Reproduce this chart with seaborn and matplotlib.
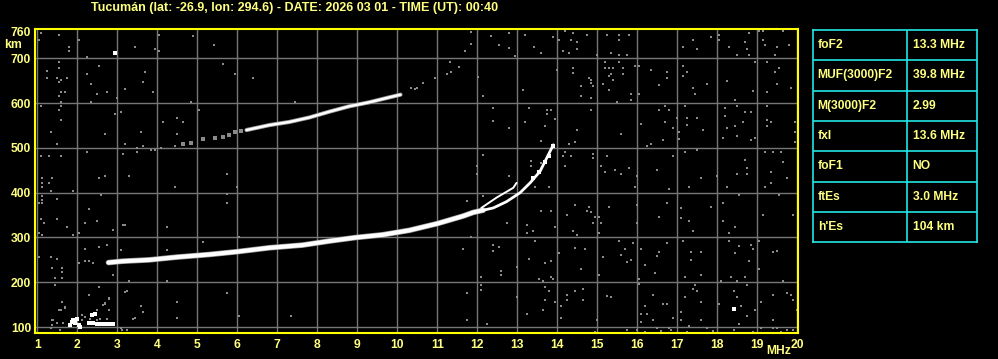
import numpy as np
import pandas as pd
import matplotlib
matplotlib.use("Agg")
import matplotlib.pyplot as plt
import seaborn as sns

# ---------------- data ----------------
title = "Tucumán (lat: -26.9, lon: 294.6) - DATE: 2026 03 01 - TIME (UT): 00:40"
x_ticks = list(range(1, 21))
y_ticks = [100, 200, 300, 400, 500, 600, 700, 760]

# F2 main trace (low part, thick)
f2_freq = [2.78, 3.13, 3.8, 4.47, 5.3, 5.97, 6.8, 7.63, 8.3, 8.97, 9.63, 10.3, 11.0, 11.65, 11.9, 12.15]
f2_height = [244, 247, 250, 256, 262, 268, 277, 283, 292, 300, 306, 316, 331, 348, 356, 361]
# F2 cusp, lower branch
cusp_freq = [12.2, 12.4, 12.73, 13.07, 13.32, 13.57, 13.8, 13.9]
cusp_height = [362, 366, 380, 400, 422, 448, 489, 507]
# F2 upper branch
upper_freq = [12.1, 12.48, 12.9, 12.98]
upper_height = [366, 389, 411, 422]
# second hop trace
hop2_freq = [6.23, 6.8, 7.3, 7.8, 8.3, 8.8, 9.3, 9.8, 10.08]
hop2_height = [540, 551, 558, 568, 581, 593, 602, 613, 619]
hop2_sparse_freq = [4.63, 4.83, 5.13, 5.43, 5.63, 5.78, 5.95, 6.1]
hop2_sparse_height = [508, 512, 519, 522, 525, 530, 535, 538]
# sporadic E (bright echoes)
es_freq = [1.82, 1.86, 1.9, 1.94, 1.98, 2.03, 2.07, 2.28, 2.36, 2.44, 2.4, 2.5, 2.57, 2.63, 2.69, 2.75, 2.8, 2.86, 2.9]
es_height = [104, 112, 116, 108, 119, 104, 101, 108, 127, 130, 108, 106, 106, 106, 106, 106, 106, 106, 106]
# isolated bright dots
bright_freq = [2.93, 18.41, 13.88, 13.78, 13.68, 13.53, 13.4]
bright_height = [713, 140, 504, 482, 469, 446, 433]

# background noise echoes (grey)
noise_freq = [
    1.08, 1.53, 1.03, 2.03, 1.78, 1.78, 3.43, 3.93, 4.03, 4.03, 4.88, 5.41, 2.23, 1.53, 1.53, 1.24, 2.53, 3.68,
    2.23, 1.24, 1.48, 1.58, 1.73, 1.53, 2.33, 3.18, 3.63, 3.88, 2.73, 2.48, 1.58, 1.68, 1.53, 1.58, 2.33, 2.98,
    1.08, 1.53, 1.58, 1.58, 3.08, 2.93, 5.63, 5.93, 6.38, 4.83, 5.03, 7.43, 4.13, 4.48, 4.63, 1.33, 2.68, 3.58,
    4.48, 1.48, 3.18, 3.63, 4.43, 1.08, 1.28, 1.58, 2.23, 3.13, 3.48, 3.48, 3.83, 3.93, 4.08, 1.13, 1.38, 2.53,
    2.68, 3.28, 5.73, 10.35, 10.45,
    11.83, 12.33, 11.83, 12.78, 12.78, 12.53, 11.68, 12.93, 13.18, 13.42, 13.58, 13.88, 14.18, 14.38, 14.48,
    14.33, 14.13, 14.28, 14.48, 14.73, 14.03, 15.23, 15.53, 15.78, 15.53, 15.33, 15.53, 15.73, 14.98, 17.13,
    17.38, 17.48, 17.83, 18.03, 18.03, 18.28, 18.48, 18.68, 18.73, 18.78, 18.78, 19.03, 19.13, 19.18, 19.13,
    19.48, 19.43, 19.63, 19.78, 11.32, 11.23, 11.33, 11.53, 10.93, 10.63, 10.48, 12.02, 12.13, 13.13, 14.0,
    14.38, 14.38, 14.58, 14.58, 14.83, 14.83, 14.88, 14.78, 14.83, 15.18, 15.18, 15.28, 15.38, 15.53, 15.63,
    15.33, 15.28, 15.63, 15.38, 15.13, 15.28, 15.83, 16.03, 15.83, 15.48, 15.93, 16.03, 16.33, 16.73, 16.73,
    16.53, 17.13, 17.23, 17.13, 17.38, 17.43, 17.73, 18.23, 18.88, 19.23, 19.48, 19.83, 19.43, 19.53, 19.23,
    18.93, 18.43,
    12.38, 12.38, 12.78, 13.28, 13.73, 13.83, 13.73, 13.93, 13.68, 13.18, 13.58, 14.48, 14.28, 14.43, 14.83,
    15.58, 16.08, 16.23, 16.33, 16.53, 16.68, 16.78, 16.68, 16.63, 16.88, 16.98, 17.03, 17.03, 17.18, 17.23,
    17.23, 17.48, 17.63, 18.13, 18.18, 18.18, 18.23, 18.48, 18.43, 18.68, 18.83, 18.63, 18.48, 18.83, 18.93,
    19.23, 19.23, 19.33, 19.23, 19.93, 19.93, 19.93,
    12.13, 11.98, 11.98, 12.78, 13.33, 13.33, 13.58, 13.63, 14.18, 14.13, 14.33, 14.18, 14.88, 14.88, 15.23,
    15.08, 15.18, 15.43, 15.78, 15.58, 15.98, 16.48, 16.88, 17.18, 17.48, 17.58, 17.98, 18.68, 18.73, 18.48,
    18.73, 19.18, 19.38, 19.58, 19.63, 19.33, 19.73,
    1.13, 1.28, 1.13, 1.33, 1.88, 1.13, 1.13, 1.48, 1.03, 1.13, 2.58, 2.28, 1.08, 1.18, 1.48, 1.73, 2.18, 2.48,
    3.13, 3.18, 2.88, 1.03, 1.13, 1.88, 2.03, 4.23, 4.43, 5.73, 5.73, 5.98, 6.03, 5.13, 2.73, 2.53, 2.18, 3.08,
    4.23, 1.03, 1.33, 1.48, 2.18, 2.28, 2.38, 2.03, 1.38, 1.63, 1.63, 1.43, 1.63, 2.88, 3.28, 4.23, 1.43, 2.53,
    3.23, 2.28, 2.78, 2.68, 1.63, 3.58, 3.63, 3.43, 4.48, 5.73, 6.03, 4.48, 7.33, 1.38, 1.33, 1.58, 1.68, 3.23,
    3.08,
    1.63, 1.68, 1.55, 1.4, 1.5, 1.65, 2.11, 2.11, 2.19, 2.4, 2.48, 2.65, 2.69, 2.78, 2.57, 2.48, 2.32, 2.73, 2.29,
    2.78, 3.19, 3.4, 3.11, 1.57, 1.36,
    11.73, 12.13, 11.83, 11.63, 12.38, 12.53, 12.38, 12.58, 12.58, 12.08, 12.08, 12.08, 11.73, 11.73, 12.25,
    12.73, 13.23, 13.43, 13.78, 13.58, 13.83, 13.93, 13.23, 13.38, 13.28, 13.68, 13.83, 13.43, 12.98, 13.53,
    13.63, 13.83, 13.88, 13.68, 13.78, 13.68, 13.93, 12.98, 13.23, 13.63, 14.03, 14.43, 14.78, 14.73, 14.93,
    15.03, 14.88, 14.83, 15.08, 15.03, 14.38, 14.48, 14.23, 14.43, 14.68, 14.58, 14.43, 14.23, 14.23, 14.08,
    14.08, 14.63, 14.63, 15.03, 15.23, 15.33, 14.98, 15.28, 15.53, 15.68, 15.58, 15.73, 15.83, 15.88, 15.13,
    15.93, 15.98, 15.98, 16.08, 16.18, 16.43, 16.03, 16.03, 16.38, 16.63, 16.73, 16.18, 16.23, 16.08, 16.08,
    16.38, 16.48, 16.78, 16.88, 16.53, 16.73, 16.78, 16.53, 16.48, 16.73, 17.08, 17.08, 17.28, 17.38, 17.13,
    17.33, 17.33, 17.58, 17.18, 17.43, 17.58, 17.38, 17.48, 17.18, 17.58, 17.08, 17.08, 17.28, 17.58, 17.73,
    17.28, 17.83, 18.13, 18.13, 18.43, 18.28, 18.28, 18.53, 18.43, 18.83, 19.03, 18.88, 18.78, 19.03, 19.38,
    19.48, 18.23, 18.53, 19.18, 19.33, 19.53, 19.13, 19.88, 19.63, 19.73, 19.83, 19.38, 18.08, 18.33, 18.48,
    18.68, 18.73, 18.41, 18.48, 19.08, 18.93, 18.58, 18.03, 18.73, 18.53, 19.38, 19.88, 19.98, 19.08,
    14.93, 15.73, 15.98, 16.83, 17.23, 17.73, 18.41, 19.38, 19.48, 19.73, 19.88, 16.2, 16.6, 17.9, 18.9, 19.6,
]
noise_height = [
    757, 753, 740, 740, 725, 717, 726, 721, 752, 717, 751, 731, 703, 693, 678, 672, 684, 670,
    666, 656, 656, 651, 656, 648, 643, 631, 648, 625, 625, 621, 625, 625, 616, 603, 603, 612,
    594, 585, 594, 563, 581, 576, 688, 666, 656, 603, 585, 603, 557, 567, 558, 536, 531, 536,
    531, 509, 509, 504, 504, 482, 482, 482, 491, 486, 491, 500, 495, 495, 500, 433, 433, 433,
    437, 437, 442, 634, 631,
    758, 751, 732, 757, 723, 731, 717, 706, 753, 726, 713, 748, 762, 757, 737,
    740, 717, 713, 721, 753, 740, 753, 753, 753, 740, 713, 708, 708, 708, 726,
    740, 722, 748, 753, 740, 726, 708, 737, 722, 757, 708, 762, 762, 731, 740,
    726, 708, 762, 731, 693, 666, 670, 681, 657, 646, 633, 658, 616, 630, 675,
    679, 668, 639, 616, 652, 646, 639, 657, 612, 693, 679, 679, 679, 693, 679,
    666, 661, 666, 652, 643, 630, 621, 621, 608, 603, 684, 684, 675, 670, 657,
    641, 684, 670, 661, 634, 621, 643, 650, 628, 625, 643, 634, 670, 679, 693,
    693, 608,
    590, 560, 545, 590, 585, 585, 576, 564, 549, 558, 515, 540, 509, 513, 585,
    531, 554, 504, 509, 585, 594, 585, 558, 518, 545, 567, 536, 519, 594, 567,
    552, 567, 540, 522, 590, 572, 545, 594, 549, 581, 581, 558, 527, 518, 522,
    594, 563, 558, 549, 558, 536, 513,
    484, 460, 442, 437, 471, 460, 467, 460, 491, 482, 482, 460, 487, 478, 482,
    460, 446, 451, 455, 442, 437, 451, 482, 491, 495, 433, 437, 473, 455, 442,
    442, 491, 491, 491, 469, 446, 433,
    422, 422, 413, 404, 404, 393, 384, 387, 378, 378, 395, 363, 342, 333, 342, 324, 333, 337,
    328, 328, 317, 310, 306, 306, 310, 324, 413, 398, 378, 413, 302, 290, 284, 279, 275, 272,
    272, 257, 257, 252, 248, 248, 243, 243, 232, 232, 223, 210, 210, 216, 203, 203, 194, 190,
    181, 172, 163, 152, 156, 147, 134, 120, 156, 176, 125, 120, 125, 116, 98, 138, 143, 93,
    98,
    157, 145, 138, 116, 108, 108, 127, 116, 123, 130, 138, 149, 153, 138, 119, 116, 117, 119, 172,
    164, 179, 119, 93, 93, 104,
    381, 393, 301, 274, 283, 278, 269, 225, 216, 211, 193, 183, 176, 116, 107,
    333, 328, 413, 413, 360, 360, 324, 310, 315, 252, 243, 248, 293, 234, 207,
    202, 211, 207, 189, 180, 161, 156, 166, 129, 138, 266, 372, 369, 360, 346,
    346, 333, 357, 333, 310, 315, 306, 351, 277, 274, 229, 180, 172, 161, 147,
    120, 184, 161, 216, 170, 166, 116, 369, 293, 274, 260, 245, 249, 288, 256,
    413, 373, 333, 275, 238, 221, 208, 195, 172, 152, 152, 147, 129, 129, 111,
    116, 98, 98, 120, 345, 378, 409, 268, 259, 288, 366, 344, 336, 315, 293,
    268, 250, 268, 212, 194, 216, 185, 181, 166, 156, 134, 116, 102, 116, 98,
    413, 369, 378, 336, 324, 310, 293, 280, 266, 284, 293, 275, 248, 230, 267,
    270, 413, 395, 413, 422, 395, 351, 351, 203, 176, 172, 172, 203, 211, 203,
    212, 194, 181, 168, 156, 138, 147, 152, 125, 107, 116, 161, 138, 98,
    89, 93, 93, 93, 90, 98, 93, 98, 98, 93, 93, 90, 91, 92, 90, 89,
]

# parameter table
param_names = ["foF2", "MUF(3000)F2", "M(3000)F2", "fxI", "foF1", "ftEs", "h'Es"]
param_values = ["13.3 MHz", "39.8 MHz", "2.99", "13.6 MHz", "NO", "3.0 MHz", "104 km"]

# ---------------- style ----------------
BG = "#000000"
YEL = "#ffff00"
TXT = "#ffff80"
GRID = "#777777"
NOISE = "#8a8a8a"
CYAN = "#22e6e6"
FONT = ["Liberation Sans", "DejaVu Sans"]
FS = 8.7

sns.set_style("dark")
plt.rcParams["font.family"] = FONT

fig = plt.figure(figsize=(9.98, 3.59), dpi=100, facecolor=BG)
W, H = 998.0, 359.0
ax = fig.add_axes([35.3 / W, 1 - 333.3 / H, (798.3 - 35.3) / W, (333.3 - 29.3) / H])
ax.set_facecolor(BG)

noise_df = pd.DataFrame({"f": noise_freq, "h": noise_height})
sns.scatterplot(data=noise_df, x="f", y="h", ax=ax, marker="s", s=4.2, color=NOISE,
                linewidth=0, legend=False, zorder=3)
sparse_df = pd.DataFrame({"f": hop2_sparse_freq, "h": hop2_sparse_height})
sns.scatterplot(data=sparse_df, x="f", y="h", ax=ax, marker="s", s=5.0, color=NOISE,
                linewidth=0, legend=False, zorder=3)

f2_df = pd.DataFrame({"f": f2_freq, "h": f2_height})
sns.lineplot(data=f2_df, x="f", y="h", ax=ax, sort=False, color="#9a9a9a", lw=4.0, zorder=4)
sns.lineplot(data=f2_df, x="f", y="h", ax=ax, sort=False, color="white", lw=3.0, zorder=5)

cusp_df = pd.DataFrame({"f": cusp_freq, "h": cusp_height})
sns.lineplot(data=cusp_df, x="f", y="h", ax=ax, sort=False, color="white", lw=2.0, zorder=5)
upper_df = pd.DataFrame({"f": upper_freq, "h": upper_height})
sns.lineplot(data=upper_df, x="f", y="h", ax=ax, sort=False, color="white", lw=1.4, zorder=5)

hop2_df = pd.DataFrame({"f": hop2_freq, "h": hop2_height})
sns.lineplot(data=hop2_df, x="f", y="h", ax=ax, sort=False, color="#9a9a9a", lw=3.0, zorder=4)
sns.lineplot(data=hop2_df, x="f", y="h", ax=ax, sort=False, color="white", lw=1.8, zorder=5)

es_df = pd.DataFrame({"f": es_freq, "h": es_height})
sns.scatterplot(data=es_df, x="f", y="h", ax=ax, marker="s", s=7, color="white",
                linewidth=0, legend=False, zorder=5)
br_df = pd.DataFrame({"f": bright_freq, "h": bright_height})
sns.scatterplot(data=br_df, x="f", y="h", ax=ax, marker="s", s=5, color="white",
                linewidth=0, legend=False, zorder=5)

ax.set_xlim(0.95, 20.025)
ax.set_ylim(86, 765)
ax.set_xticks(x_ticks)
ax.set_xticklabels([str(v) for v in x_ticks])
ax.set_yticks(y_ticks)
ax.set_yticklabels([str(v) for v in y_ticks])
ax.set_xlabel("")
ax.set_ylabel("")
ax.tick_params(axis="both", length=0, colors=TXT, labelsize=FS)
ax.tick_params(axis="x", pad=4)
ax.tick_params(axis="y", pad=3)
for lab in ax.get_xticklabels() + ax.get_yticklabels():
    lab.set_fontweight("bold")
    lab.set_color(TXT)
ax.grid(True, color=GRID, lw=1.0)
ax.get_ygridlines()[-1].set_visible(False)
for s in ax.spines.values():
    s.set_visible(True)
    s.set_color(YEL)
    s.set_linewidth(1.5)
    s.set_zorder(10)

fig.text(91 / W, 1 - 7.5 / H, title, color=TXT, fontsize=9, fontweight="bold",
         ha="left", va="center")
fig.text(13 / W, 1 - 45 / H, "km", color=TXT, fontsize=FS, fontweight="bold",
         ha="center", va="center")
fig.text(779 / W, 1 - 351.5 / H, "MHz", color=TXT, fontsize=FS, fontweight="bold",
         ha="center", va="center")

# parameter table
tx0, tx1, ty0, ty1 = 812.7, 977.3, 30.0, 242.3
tab = fig.add_axes([tx0 / W, 1 - ty1 / H, (tx1 - tx0) / W, (ty1 - ty0) / H])
tab.set_facecolor(BG)
tab.set_xlim(0, 1)
tab.set_ylim(len(param_names), 0)
tab.set_xticks([])
tab.set_yticks([])
tab.grid(False)
for s in tab.spines.values():
    s.set_visible(True)
    s.set_color(CYAN)
    s.set_linewidth(1.2)
for i in range(1, len(param_names)):
    tab.axhline(i, color=CYAN, lw=1.2)
xdiv = (907.3 - tx0) / (tx1 - tx0)
tab.axvline(xdiv, color=CYAN, lw=1.2)
for i, (n, v) in enumerate(zip(param_names, param_values)):
    tab.text((817.7 - tx0) / (tx1 - tx0), i + 0.5, n, color=TXT, fontsize=FS,
             fontweight="bold", ha="left", va="center")
    tab.text((912.7 - tx0) / (tx1 - tx0), i + 0.5, v, color=TXT, fontsize=FS,
             fontweight="bold", ha="left", va="center")

fig.savefig("out.png", dpi=100, facecolor=BG)
